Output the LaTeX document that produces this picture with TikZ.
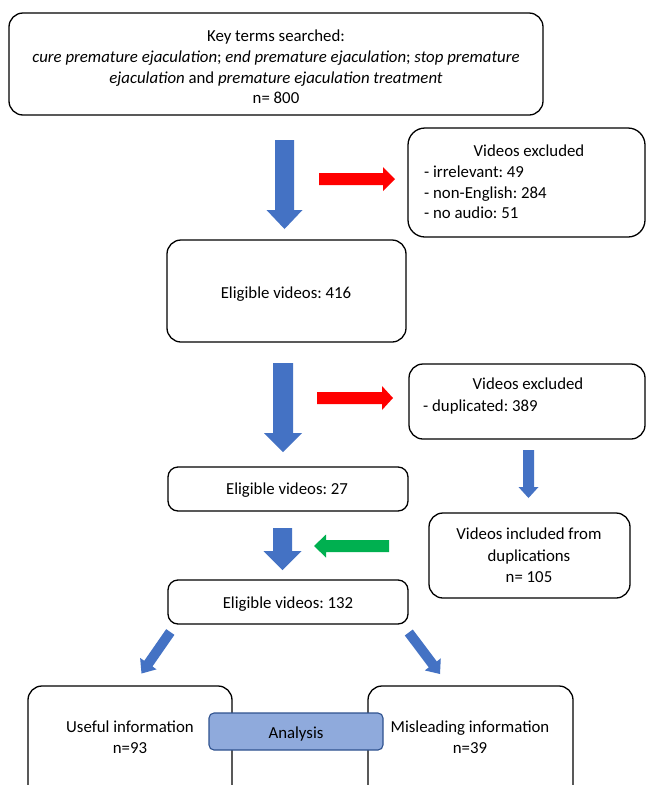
\documentclass[tikz,border=0pt]{standalone}
\usepackage{fontspec}
\setmainfont{Carlito}
\frenchspacing
\usetikzlibrary{calc}
\definecolor{arrblue}{HTML}{4472C4}
\definecolor{arrred}{HTML}{FF0000}
\definecolor{arrgreen}{HTML}{00B050}
\definecolor{anafill}{HTML}{8FAADC}
\definecolor{anadraw}{HTML}{2F528F}
% #1 colour, #2 tail, #3 tip, #4 shaft half width, #5 head half width, #6 head length
\newcommand\blkarrow[6]{%
  \coordinate (hb) at ($(#3)!#6!(#2)$);
  \fill[#1] ($(#2)!#4!90:(#3)$) -- ($(hb)!#4!90:(#3)$) -- ($(hb)!#5!90:(#3)$)
    -- (#3) -- ($(hb)!#5!-90:(#3)$) -- ($(hb)!#4!-90:(#3)$) -- ($(#2)!#4!-90:(#3)$) -- cycle;}
\tikzset{
  box/.style={draw=black, line width=1.3pt, rounded corners=14pt, inner sep=0pt, fill=white},
  sbox/.style={box, rounded corners=10pt},
  txt/.style={inner sep=0pt, anchor=base, font=\fontsize{16.8}{21}\selectfont},
  ltxt/.style={txt, anchor=base west},
  anabox/.style={draw=anadraw, fill=anafill, line width=1.1pt, rounded corners=5pt, inner sep=0pt}
}
\begin{document}
\begin{tikzpicture}[x=1pt,y=-1pt]
\useasboundingbox (0,0) rectangle (646,785);
\clip (0,0) rectangle (646,785);
\fill[white] (0,0) rectangle (646,785);
% boxes
\node[box, minimum width=534pt, minimum height=102pt] (top) at (276,64) {};
\node[box, rounded corners=17pt, minimum width=237pt, minimum height=109pt] (exc1) at (526.5,182.5) {};
\node[box, minimum width=239pt, minimum height=102pt] (e416) at (286.5,291) {};
\node[sbox, rounded corners=14pt, minimum width=236pt, minimum height=75pt] (exc2) at (527,401.5) {};
\node[sbox, minimum width=240pt, minimum height=44pt] (e27) at (288,489) {};
\node[box, minimum width=201pt, minimum height=85pt] (incl) at (529.5,555.5) {};
\node[sbox, minimum width=240pt, minimum height=44pt] (e132) at (288,602) {};
\node[box, minimum width=204pt, minimum height=130pt] (useful) at (130,751) {};
\node[box, minimum width=205pt, minimum height=130pt] (mislead) at (470.5,751) {};
\node[anabox, minimum width=174pt, minimum height=37pt] (ana) at (296,731.5) {};
% texts
\node[txt] (t1) at (276,41) {Key terms searched:};
\node[txt] (t2) at (276,62) {\textit{cure premature ejaculation}; \textit{end premature ejaculation}; \textit{stop premature}};
\node[txt] (t3) at (276,83) {\textit{ejaculation} and \textit{premature ejaculation treatment}};
\node[txt] (t4) at (276,103) {n= 800};
\node[txt] (x1) at (529,156) {Videos excluded};
\node[ltxt] (x2) at (424,177) {- irrelevant: 49};
\node[ltxt] (x3) at (424,198) {- non-English: 284};
\node[ltxt] (x4) at (424,218) {- no audio: 51};
\node[txt] (l416) at (286,298) {Eligible videos: 416};
\node[txt] (y1) at (528,389) {Videos excluded};
\node[ltxt] (y2) at (423,411) {- duplicated: 389};
\node[txt] (l27) at (287,494) {Eligible videos: 27};
\node[txt] (i1) at (529,539) {Videos included from};
\node[txt] (i2) at (529,561) {duplications};
\node[txt] (i3) at (529,582) {n= 105};
\node[txt] (l132) at (288,608) {Eligible videos: 132};
\node[txt] (u1) at (130,732) {Useful information};
\node[txt] (u2) at (130,753) {n=93};
\node[txt] (m1) at (470,732) {Misleading information};
\node[txt] (m2) at (470,753) {n=39};
\node[txt] (al) at (296,738) {Analysis};
% arrow end points
\coordinate (a1s) at (284.5,140); \coordinate (a1e) at (284.5,229);
\coordinate (r1s) at (319,179);   \coordinate (r1e) at (395,179);
\coordinate (a2s) at (283,363);   \coordinate (a2e) at (283,452);
\coordinate (r2s) at (317,398);   \coordinate (r2e) at (393,398);
\coordinate (a3s) at (528.5,450); \coordinate (a3e) at (528.5,498);
\coordinate (a4s) at (282.5,528); \coordinate (a4e) at (282.5,570);
\coordinate (g1s) at (389,546);   \coordinate (g1e) at (314,546);
\coordinate (d1s) at (170.3,632); \coordinate (d1e) at (141.5,673.5);
\coordinate (d2s) at (408.8,632.5); \coordinate (d2e) at (440,674);
% arrows
\blkarrow{arrblue}{a1s}{a1e}{9.5pt}{18pt}{19pt}
\blkarrow{arrred}{r1s}{r1e}{6pt}{12pt}{12pt}
\blkarrow{arrblue}{a2s}{a2e}{10pt}{19pt}{19pt}
\blkarrow{arrred}{r2s}{r2e}{6pt}{12pt}{11pt}
\blkarrow{arrblue}{a3s}{a3e}{5.5pt}{10pt}{11pt}
\blkarrow{arrblue}{a4s}{a4e}{9.5pt}{19pt}{19pt}
\blkarrow{arrgreen}{g1s}{g1e}{6pt}{11.5pt}{12pt}
\blkarrow{arrblue}{d1s}{d1e}{5pt}{10pt}{12pt}
\blkarrow{arrblue}{d2s}{d2e}{5pt}{10pt}{12pt}
\end{tikzpicture}
\end{document}
